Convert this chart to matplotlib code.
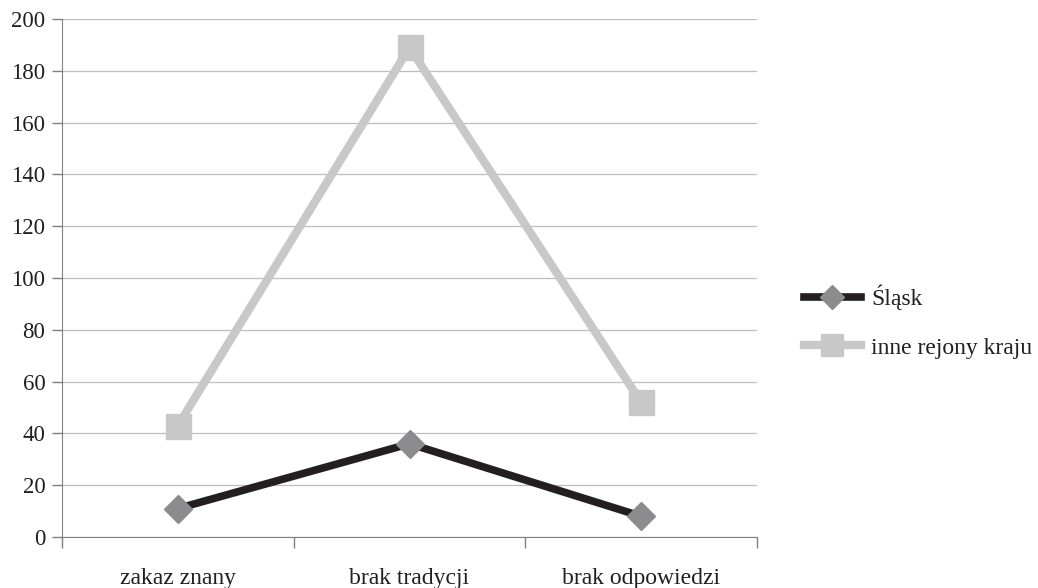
import matplotlib
matplotlib.use("Agg")
import matplotlib.pyplot as plt

categories = ["zakaz znany", "brak tradycji", "brak odpowiedzi"]
slask = [11, 36, 8]
inne = [43, 189, 52]

plt.rcParams["font.family"] = ["Liberation Serif", "DejaVu Serif"]

fig = plt.figure(figsize=(10.38, 5.88), dpi=100)
ax = fig.add_axes([62 / 1038, 51 / 588, 695 / 1038, 518 / 588])

x = [0.5, 1.5, 2.5]
ax.plot(x, inne, color="#c8c8c9", lw=6, marker="s", ms=18,
        mfc="#c8c8c9", mec="#c8c8c9", label="inne rejony kraju", clip_on=False, zorder=3)
ax.plot(x, slask, color="#231f20", lw=5.5, marker="D", ms=14,
        mfc="#8c8c8e", mec="#8c8c8e", label="Śląsk", clip_on=False, zorder=4)

ax.set_xlim(0, 3)
ax.set_ylim(0, 200)
ax.set_yticks(range(0, 201, 20))
ax.yaxis.grid(True, color="#bdbdbd", lw=0.9)
ax.set_axisbelow(True)

ax.set_xticks([0, 1, 2, 3])
ax.set_xticklabels([])
ax.set_xticks(x, minor=True)
ax.set_xticklabels(categories, minor=True)
ax.tick_params(axis="x", which="minor", length=0, pad=30, labelsize=17, colors="#231f20")
ax.tick_params(axis="x", which="major", length=8, color="#808080", width=1)
ax.tick_params(axis="y", length=7, color="#808080", width=1, labelsize=16.5,
               labelcolor="#231f20", pad=5)
for lbl in ax.get_xticklabels(minor=True):
    lbl.set_verticalalignment("center")

for s in ["top", "right"]:
    ax.spines[s].set_visible(False)
ax.spines["left"].set_color("#808080")
ax.spines["bottom"].set_color("#808080")

handles, labels = ax.get_legend_handles_labels()
ax.legend(handles[::-1], labels[::-1], loc="center left", bbox_to_anchor=(1.037, 0.416),
          frameon=False, fontsize=17, handlelength=2.4, labelspacing=1.15, handletextpad=0.45,
          markerscale=0.9, labelcolor="#231f20")

fig.savefig("out.png", dpi=100)
